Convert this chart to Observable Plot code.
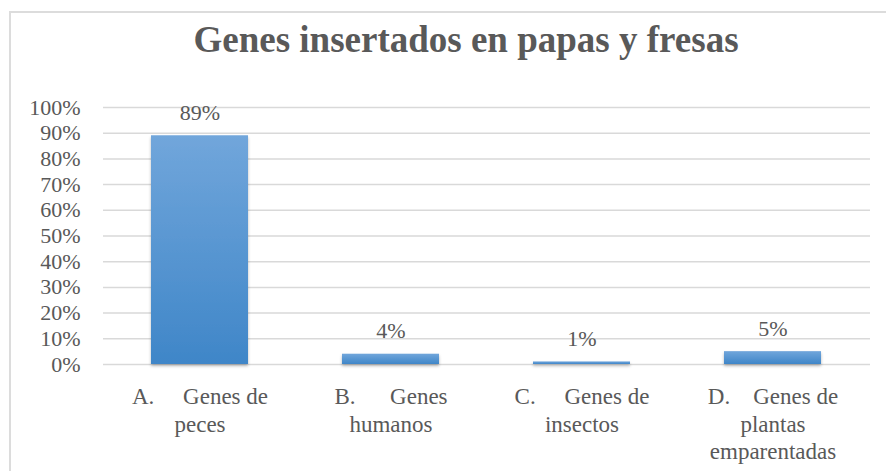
<!DOCTYPE html>
<html><head><meta charset="utf-8">
<script src="https://cdn.jsdelivr.net/npm/d3@7"></script>
<script src="https://cdn.jsdelivr.net/npm/@observablehq/plot@0.6"></script>
<style>
html,body{margin:0;padding:0;background:#fff;overflow:hidden;}
#wrap{position:relative;width:886px;height:471px;overflow:hidden;background:#fff;}
#frame{position:absolute;left:9px;top:11px;width:920px;height:520px;border:2px solid #dcdcdc;box-sizing:border-box;}
#title{position:absolute;left:0;width:932px;top:21px;text-align:center;font-family:"Liberation Serif","Times New Roman",Times,"DejaVu Serif",serif;font-weight:bold;font-size:37px;line-height:37px;color:#595959;white-space:nowrap;}
#chart{position:absolute;left:0;top:0;}
</style>
</head><body>
<div id="wrap"><div id="frame"></div><div id="title"></div><div id="chart"></div></div>
<script>
const titleText = "Genes insertados en papas y fresas";
const categories = ["A", "B", "C", "D"];
const categoryLabels = [
  "A.\u00a0\u00a0\u00a0\u00a0\u00a0Genes de\npeces",
  "B.\u00a0\u00a0\u00a0\u00a0\u00a0\u00a0Genes\nhumanos",
  "C.\u00a0\u00a0\u00a0\u00a0\u00a0Genes de\ninsectos",
  "D.\u00a0\u00a0\u00a0\u00a0Genes de\nplantas\nemparentadas"
];
const values = [0.89, 0.04, 0.01, 0.05];
const valueLabels = ["89%", "4%", "1%", "5%"];
const yTicks = [0, 0.1, 0.2, 0.3, 0.4, 0.5, 0.6, 0.7, 0.8, 0.9, 1];
const yTickLabels = ["0%", "10%", "20%", "30%", "40%", "50%", "60%", "70%", "80%", "90%", "100%"];

const serif = "'Liberation Serif', 'Times New Roman', Times, 'DejaVu Serif', serif";
document.getElementById("title").textContent = titleText;
const data = categories.map((c, i) => ({cat: c, value: values[i], label: valueLabels[i], catLabel: categoryLabels[i]}));

const chart = Plot.plot({
  width: 886, height: 471,
  marginLeft: 103, marginRight: 16, marginTop: 107, marginBottom: 107,
  x: {domain: categories, paddingInner: 0.49, paddingOuter: 0.245, axis: null},
  y: {domain: [0, 1], axis: null},
  style: {fontFamily: serif, color: "#595959", background: "transparent", overflow: "visible"},
  marks: [
    Plot.ruleY(yTicks, {stroke: "#d9d9d9", strokeWidth: 1.5}),
    Plot.axisY(yTicks, {tickFormat: d => yTickLabels[yTicks.indexOf(d)], tickSize: 0, tickPadding: 23, fontSize: 22, fontFamily: serif, fill: "#595959", label: null}),
    Plot.barY(data, {x: "cat", y: "value", fill: "url(#barGrad)"}),
    Plot.text(data, {x: "cat", y: "value", text: "label", dy: -23, fontSize: 22, fontFamily: serif, fill: "#595959"}),
    Plot.text(data, {x: "cat", y: d => 0, text: "catLabel", dy: 20, lineAnchor: "top", lineHeight: 1.2, fontSize: 23, fontFamily: serif, fill: "#595959"})
  ]
});
const sel = d3.select(chart);
sel.selectAll("text").style("font-family", serif);
const defs = sel.insert("defs", ":first-child");
const g = defs.append("linearGradient").attr("id", "barGrad").attr("x1", 0).attr("y1", 0).attr("x2", 0).attr("y2", 1);
g.append("stop").attr("offset", "0%").attr("stop-color", "#71a6db");
g.append("stop").attr("offset", "100%").attr("stop-color", "#3f86c8");
const f = defs.append("filter").attr("id", "barShadow").attr("x", "-20%").attr("y", "-20%").attr("width", "140%").attr("height", "160%");
f.append("feDropShadow").attr("dx", 0).attr("dy", 2).attr("stdDeviation", 1.8).attr("flood-color", "#000").attr("flood-opacity", 0.28);
sel.select('g[aria-label="bar"]').attr("filter", "url(#barShadow)");
document.getElementById("chart").appendChild(chart);
</script>
</body></html>
